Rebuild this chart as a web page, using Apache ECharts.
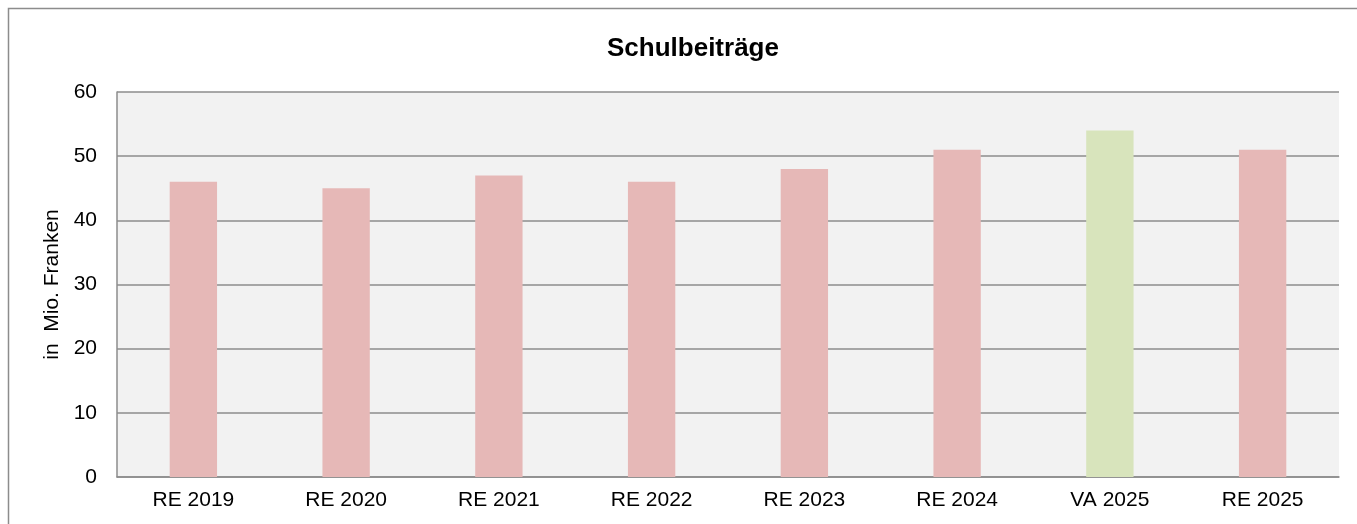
<!DOCTYPE html>
<html><head><meta charset="utf-8">
<script src="https://cdn.jsdelivr.net/npm/echarts@6/dist/echarts.min.js"></script>
<style>html,body{margin:0;padding:0;background:#fff}#c{width:1357px;height:524px}</style>
</head><body><div id="c"></div>
<script>
const categories = ['RE 2019','RE 2020','RE 2021','RE 2022','RE 2023','RE 2024','VA 2025','RE 2025'];
const values = [46, 45, 47, 46, 48, 51, 54, 51];
const barColors = ['#e6b8b7','#e6b8b7','#e6b8b7','#e6b8b7','#e6b8b7','#e6b8b7','#d8e4bc','#e6b8b7'];
const yTicks = [0, 10, 20, 30, 40, 50, 60];
const titleText = 'Schulbeiträge';
const yName = 'in  Mio. Franken';

const chart = echarts.init(document.getElementById('c'), null, {renderer:'canvas'});
const font = '"Liberation Sans", Arial, sans-serif';
chart.setOption({
  animation: false,
  backgroundColor: '#fff',
  textStyle: {fontFamily: font},
  graphic: [{type:'rect', shape:{x:8.5,y:8.5,width:1400,height:600}, style:{fill:null, stroke:'#8c8c8c', lineWidth:1.5}, z:-1}],
  title: {text: titleText, left: 602, top: 31, textStyle:{fontFamily:font, fontSize:26, fontWeight:'bold', color:'#000'}},
  grid: {left:117, right:18, top:92, bottom:47, show:true, backgroundColor:'#f2f2f2', borderWidth:0},
  xAxis: {type:'category', data: categories,
    axisLine:{show:true, lineStyle:{color:'#8c8c8c', width:1.5}},
    axisTick:{show:false},
    axisLabel:{color:'#000', fontSize:21, fontFamily:font, margin:13}},
  yAxis: {type:'value', min: yTicks[0], max: yTicks[yTicks.length-1], interval: 10,
    name: yName, nameLocation:'middle', nameGap: 47, nameRotate: 90,
    nameTextStyle:{color:'#000', fontSize:21, fontFamily:font},
    axisLine:{show:true, lineStyle:{color:'#8c8c8c', width:1.5}},
    axisTick:{show:false},
    axisLabel:{color:'#000', fontSize:21, fontFamily:font, margin:20},
    splitLine:{show:true, lineStyle:{color:'#8c8c8c', width:1.5}}},
  series: [{type:'bar', data: values.map((v,i)=>({value:v, itemStyle:{color:barColors[i]}})),
    barWidth: '31%', z: 3}]
});
</script></body></html>
